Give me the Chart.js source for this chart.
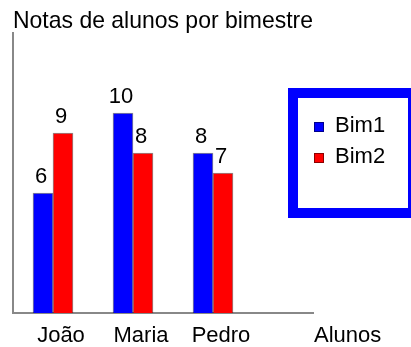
<!DOCTYPE html>
<html><head><meta charset="utf-8">
<script src="https://cdn.jsdelivr.net/npm/chart.js@4"></script>
<style>html,body{margin:0;padding:0;background:#fff;}</style>
</head><body>
<canvas id="c" width="411" height="347"></canvas>
<script>
const titleText = 'Notas de alunos por bimestre';
const categories = ['João', 'Maria', 'Pedro'];
const seriesNames = ['Bim1', 'Bim2'];
const bim1 = [6, 10, 8];
const bim2 = [9, 8, 7];
const xAxisTitle = 'Alunos';
const seriesColors = ['#0000ff', '#ff0000'];

const FONT = "'Liberation Sans', Arial, sans-serif";
const TICK_PAD = 12;

const valueLabels = {
  id: 'valueLabels',
  afterDatasetsDraw(chart) {
    const ctx = chart.ctx;
    ctx.save();
    ctx.font = '22px ' + FONT;
    ctx.fillStyle = '#000';
    ctx.textAlign = 'center';
    ctx.textBaseline = 'alphabetic';
    chart.data.datasets.forEach((ds, di) => {
      chart.getDatasetMeta(di).data.forEach((el, i) => {
        ctx.fillText(String(ds.data[i].y), el.x - 2, el.y - 10);
      });
    });
    ctx.restore();
  }
};

const axisTitle = {
  id: 'axisTitle',
  afterDraw(chart) {
    const ctx = chart.ctx, xs = chart.scales.x;
    ctx.save();
    ctx.font = '22px ' + FONT;
    ctx.fillStyle = '#000';
    ctx.textAlign = 'left';
    ctx.textBaseline = 'middle';
    ctx.fillText(xAxisTitle, chart.chartArea.right + 1, xs.top + TICK_PAD + 11);
    ctx.restore();
  }
};

const boxLegend = {
  id: 'boxLegend',
  afterDraw(chart) {
    const ctx = chart.ctx;
    ctx.save();
    ctx.strokeStyle = '#0000ff';
    ctx.lineWidth = 10;
    ctx.strokeRect(293, 93, 120, 120);
    ctx.font = '22px ' + FONT;
    ctx.textAlign = 'left';
    ctx.textBaseline = 'alphabetic';
    chart.data.datasets.forEach((ds, i) => {
      const y = 122 + i * 31;
      ctx.fillStyle = ds.backgroundColor;
      ctx.fillRect(314, y, 10, 10);
      ctx.strokeStyle = 'rgba(0,0,0,0.45)';
      ctx.lineWidth = 1;
      ctx.strokeRect(314.5, y + 0.5, 9, 9);
      ctx.fillStyle = '#000';
      ctx.fillText(ds.label, 335, y + 10);
    });
    ctx.restore();
  }
};

new Chart(document.getElementById('c'), {
  type: 'bar',
  data: {
    datasets: [
      { label: seriesNames[0], data: bim1.map((v, i) => ({ x: i, y: v })), backgroundColor: seriesColors[0] },
      { label: seriesNames[1], data: bim2.map((v, i) => ({ x: i, y: v })), backgroundColor: seriesColors[1] }
    ]
  },
  options: {
    responsive: false,
    animation: false,
    events: [],
    barThickness: 20,
    borderWidth: 1,
    borderColor: 'rgba(0,0,0,0.45)',
    layout: { padding: { left: 13, right: 98, top: 0, bottom: -12 } },
    plugins: {
      legend: { display: false },
      tooltip: { enabled: false },
      title: {
        display: true, text: titleText, align: 'start', color: '#000',
        font: { family: FONT, size: 24, weight: 'normal', lineHeight: 1 },
        padding: { top: 9, bottom: 0 }
      }
    },
    scales: {
      x: {
        type: 'linear', min: -0.5, max: 3.25, offset: false,
        grid: { display: false, drawTicks: false },
        border: { display: true, color: '#888', width: 2 },
        ticks: {
          stepSize: 1, includeBounds: false, autoSkip: false, maxRotation: 0,
          padding: TICK_PAD, labelOffset: 8, color: '#000',
          font: { family: FONT, size: 22, lineHeight: 1 },
          callback: (v) => categories[v] !== undefined ? categories[v] : ''
        }
      },
      y: {
        min: 0, max: 14,
        grid: { display: false, drawTicks: false },
        border: { display: true, color: '#888', width: 2 },
        ticks: { display: false }
      }
    }
  },
  plugins: [valueLabels, axisTitle, boxLegend]
});
</script>
</body></html>
